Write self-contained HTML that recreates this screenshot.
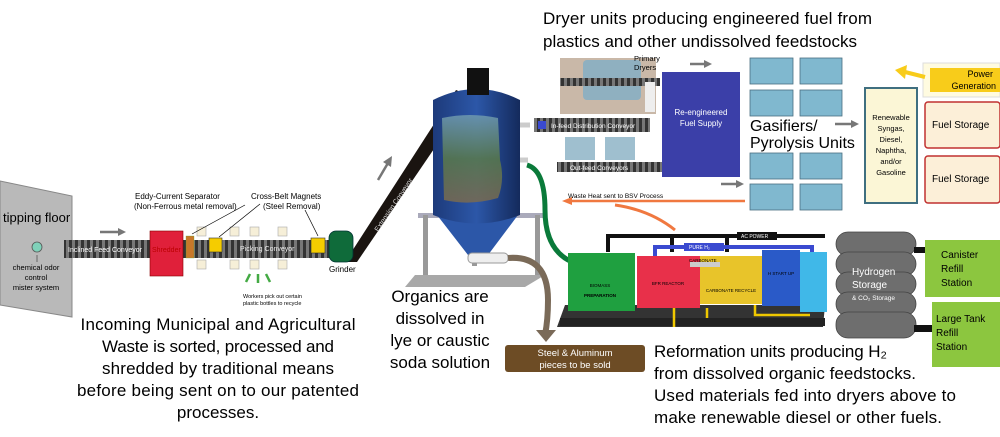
<!DOCTYPE html>
<html><head><meta charset="utf-8"><style>
html,body{margin:0;padding:0;background:#fff;}
svg{display:block;}
text{font-family:"Liberation Sans",sans-serif;}
</style></head><body>
<svg width="1000" height="437" viewBox="0 0 1000 437" xmlns="http://www.w3.org/2000/svg">
<defs>
<pattern id="belt" width="6" height="10" patternUnits="userSpaceOnUse"><rect width="6" height="10" fill="#333"/><rect width="3" height="10" fill="#777"/></pattern>
<linearGradient id="tank" x1="0" x2="1"><stop offset="0" stop-color="#1d3a7a"/><stop offset="0.5" stop-color="#2c57a8"/><stop offset="1" stop-color="#142a5c"/></linearGradient>
<linearGradient id="liq" x1="0" y1="0" x2="0" y2="1"><stop offset="0" stop-color="#6f9ab0"/><stop offset="0.5" stop-color="#5a7a4a"/><stop offset="1" stop-color="#7a6a50"/></linearGradient>
</defs>

<!-- tipping floor -->
<polygon points="0,181 72,196 72,317 0,305" fill="#b9b9b9" stroke="#888"/>
<text x="3" y="222" font-size="13">tipping floor</text>
<circle cx="37" cy="247" r="5" fill="#7fd1b9" stroke="#555" stroke-width="0.8"/>
<line x1="37" y1="262" x2="37" y2="255" stroke="#666"/>
<text x="36" y="270" font-size="7.5" text-anchor="middle">chemical odor</text>
<text x="36" y="280" font-size="7.5" text-anchor="middle">control</text>
<text x="36" y="290" font-size="7.5" text-anchor="middle">mister system</text>

<!-- conveyor -->
<rect x="64" y="240" width="268" height="18" fill="url(#belt)"/>
<text x="68" y="252" font-size="7" fill="#fff">Inclined Feed Conveyor</text>
<path d="M100 232 H120" stroke="#777" stroke-width="2.5"/><polygon points="118,228 126,232 118,236" fill="#777"/>
<rect x="150" y="231" width="33" height="45" fill="#e0203a" stroke="#800" stroke-width="0.6"/>
<text x="152" y="252" font-size="7" fill="#b00">Shredder</text>
<rect x="186" y="236" width="8" height="22" fill="#c8782a" stroke="#5a3" stroke-width="0.3"/>
<rect x="209" y="238" width="13" height="14" fill="#f5cc00" stroke="#333" stroke-width="0.6"/>
<rect x="311" y="238" width="14" height="15" fill="#f5cc00" stroke="#333" stroke-width="0.6"/>
<text x="240" y="251" font-size="7" fill="#eee">Picking Conveyor</text>
<g fill="#f6efd8" stroke="#aaa" stroke-width="0.6">
<rect x="197" y="227" width="9" height="9"/><rect x="230" y="227" width="9" height="9"/><rect x="250" y="227" width="9" height="9"/><rect x="278" y="227" width="9" height="9"/>
<rect x="197" y="260" width="9" height="9"/><rect x="230" y="260" width="9" height="9"/><rect x="250" y="260" width="9" height="9"/><rect x="278" y="260" width="9" height="9"/>
</g>
<text x="135" y="199" font-size="8">Eddy-Current Separator</text>
<text x="134" y="209" font-size="8">(Non-Ferrous metal removal)</text>
<text x="251" y="199" font-size="8">Cross-Belt Magnets</text>
<text x="263" y="209" font-size="8">(Steel Removal)</text>
<line x1="245" y1="205" x2="192" y2="234" stroke="#000" stroke-width="0.7"/>
<line x1="260" y1="204" x2="219" y2="237" stroke="#000" stroke-width="0.7"/>
<line x1="305" y1="210" x2="318" y2="236" stroke="#000" stroke-width="0.7"/>
<path d="M250 274 l-4 8 M258 274 v9 M266 274 l4 8" stroke="#4a4" stroke-width="2.5"/>
<text x="243" y="298" font-size="5.5">Workers pick out certain</text>
<text x="243" y="305" font-size="5.5">plastic bottles to recycle</text>

<!-- grinder + extension conveyor -->
<polygon points="345,262 357,262 470,96 456,90" fill="#1a1410"/>
<rect x="329" y="231" width="24" height="31" rx="7" fill="#0f6b3a" stroke="#033" stroke-width="0.8"/>
<text x="329" y="272" font-size="8">Grinder</text>
<text x="0" y="0" font-size="7" fill="#ddd" transform="translate(378,232) rotate(-56)">Extension Conveyor</text>
<path d="M378 180 L388 163" stroke="#777" stroke-width="2.5"/><polygon points="383,162 392,156 391,167" fill="#777"/>

<!-- tank -->
<rect x="418" y="213" width="125" height="5" fill="#aab"/>
<rect x="423" y="215" width="5" height="60" fill="#999"/><rect x="535" y="215" width="5" height="60" fill="#999"/>
<rect x="472" y="218" width="5" height="48" fill="#999"/>
<polygon points="415,275 545,275 525,287 405,287" fill="#a8a8a8"/>
<polygon points="437,215 518,215 488,255 468,255" fill="#2c57a8"/>
<rect x="468" y="253" width="40" height="10" rx="4" fill="#eee" stroke="#999"/>
<path d="M433 100 Q477 78 520 100 V215 Q477 232 433 215 Z" fill="url(#tank)"/>
<path d="M442 118 Q470 112 498 118 L500 160 Q505 180 498 198 Q470 206 444 200 Z" fill="url(#liq)" opacity="0.85"/>
<rect x="467" y="68" width="22" height="27" fill="#111"/>
<path d="M520 125 h10 M520 160 h8" stroke="#ccc" stroke-width="5"/>
<path d="M527 165 Q545 170 545 210 Q545 250 572 262" stroke="#0a7a3a" stroke-width="5" fill="none"/>
<path d="M508 258 Q548 255 548 300 Q548 320 545 335" stroke="#7a6a58" stroke-width="6" fill="none"/>
<polygon points="536,330 556,330 546,342" fill="#7a6a58"/>
<text x="440" y="302" font-size="17" text-anchor="middle">Organics are</text>
<text x="440" y="324" font-size="17" text-anchor="middle">dissolved in</text>
<text x="440" y="346" font-size="17" text-anchor="middle">lye or caustic</text>
<text x="440" y="368" font-size="17" text-anchor="middle">soda solution</text>
<rect x="505" y="345" width="140" height="27" rx="3" fill="#6d4c25"/>
<text x="575" y="356" font-size="9.5" fill="#fff" text-anchor="middle">Steel &amp; Aluminum</text>
<text x="575" y="368" font-size="9.5" fill="#fff" text-anchor="middle">pieces to be sold</text>

<!-- top text -->
<text x="543" y="24" font-size="17" textLength="329">Dryer units producing engineered fuel from</text>
<text x="543" y="47" font-size="17" textLength="314">plastics and other undissolved feedstocks</text>

<!-- dryers -->
<rect x="560" y="58" width="96" height="56" fill="#c9b8a8"/>
<rect x="583" y="60" width="58" height="40" rx="4" fill="#8fb0c0"/>
<rect x="560" y="78" width="100" height="8" fill="url(#belt)"/>
<rect x="645" y="82" width="10" height="30" fill="#eee"/>
<text x="634" y="61" font-size="7.5">Primary</text><text x="634" y="70" font-size="7.5">Dryers</text>
<rect x="534" y="118" width="116" height="14" fill="url(#belt)"/>
<rect x="538" y="121" width="8" height="8" fill="#3a4ad0"/>
<text x="551" y="128" font-size="6.5" fill="#fff">In-feed Distribution Conveyor</text>
<rect x="565" y="137" width="30" height="23" fill="#9fbfcf"/><rect x="605" y="137" width="30" height="23" fill="#9fbfcf"/>
<rect x="557" y="162" width="108" height="10" fill="url(#belt)"/>
<text x="570" y="170" font-size="6.5" fill="#fff">Out-feed Conveyors</text>
<rect x="662" y="72" width="78" height="105" fill="#3b3fa8"/>
<text x="701" y="115" font-size="8" fill="#fff" text-anchor="middle">Re-engineered</text>
<text x="701" y="126" font-size="8" fill="#fff" text-anchor="middle">Fuel Supply</text>
<path d="M690 64 H705" stroke="#777" stroke-width="2.5"/><polygon points="704,60 712,64 704,68" fill="#777"/>
<path d="M721 184 H737" stroke="#777" stroke-width="2.5"/><polygon points="736,180 744,184 736,188" fill="#777"/>

<!-- gasifiers -->
<g fill="#80b8cf" stroke="#4a6f80" stroke-width="0.8">
<rect x="750" y="58" width="43" height="26"/><rect x="800" y="58" width="42" height="26"/>
<rect x="750" y="90" width="43" height="26"/><rect x="800" y="90" width="42" height="26"/>
<rect x="750" y="153" width="43" height="26"/><rect x="800" y="153" width="42" height="26"/>
<rect x="750" y="184" width="43" height="26"/><rect x="800" y="184" width="42" height="26"/>
</g>
<text x="750" y="131" font-size="16">Gasifiers/</text>
<text x="750" y="148" font-size="16">Pyrolysis Units</text>
<path d="M835 124 H852" stroke="#777" stroke-width="2.5"/><polygon points="851,120 859,124 851,128" fill="#777"/>
<rect x="865" y="88" width="52" height="115" fill="#fbf6d6" stroke="#3f6f80" stroke-width="2"/>
<g font-size="7.5" text-anchor="middle"><text x="891" y="120">Renewable</text><text x="891" y="131">Syngas,</text><text x="891" y="142">Diesel,</text><text x="891" y="153">Naphtha,</text><text x="891" y="164">and/or</text><text x="891" y="175">Gasoline</text></g>
<rect x="923" y="63" width="77" height="34" fill="#fffbe0" stroke="#ddd"/>
<rect x="930" y="68" width="70" height="24" fill="#f8cc1a"/>
<text x="993" y="77" font-size="9" text-anchor="end">Power</text><text x="996" y="89" font-size="9" text-anchor="end">Generation</text>
<path d="M925 77 L905 72" stroke="#f8cc1a" stroke-width="4"/><polygon points="907,65 895,70 905,79" fill="#f8cc1a"/>
<rect x="925" y="102" width="75" height="46" rx="3" fill="#fcefd8" stroke="#c03030" stroke-width="1.5"/>
<rect x="925" y="156" width="75" height="47" rx="3" fill="#fcefd8" stroke="#c03030" stroke-width="1.5"/>
<text x="932" y="128" font-size="10">Fuel Storage</text><text x="932" y="182" font-size="10">Fuel Storage</text>

<!-- waste heat -->
<path d="M745 201 H570" stroke="#f07840" stroke-width="2.5"/><polygon points="572,197 562,201 572,205" fill="#f07840"/>
<text x="568" y="198" font-size="6.5">Waste Heat sent to BSV Process</text>
<path d="M675 230 Q650 210 615 205" stroke="#f07840" stroke-width="3" fill="none"/>

<!-- reformation -->
<polygon points="565,305 825,305 823,327 557,327" fill="#333"/>
<rect x="560" y="318" width="265" height="8" fill="#222"/>
<path d="M608 252 V236 H825" stroke="#111" stroke-width="4" fill="none"/>
<path d="M672 252 V236 M727 252 V236" stroke="#111" stroke-width="4"/>
<rect x="737" y="232" width="40" height="8" fill="#111"/><text x="741" y="238" font-size="5" fill="#fff">AC POWER</text>
<path d="M655 262 V247 H812 V255" stroke="#3a4ad0" stroke-width="4" fill="none"/>
<rect x="684" y="243" width="40" height="8" fill="#3a4ad0"/><text x="689" y="249" font-size="5" fill="#fff">PURE H₂</text>
<rect x="568" y="253" width="67" height="58" fill="#1fa040"/>
<rect x="637" y="256" width="63" height="52" fill="#e8304a"/>
<rect x="700" y="256" width="62" height="48" fill="#e8c42a"/>
<rect x="762" y="250" width="38" height="56" fill="#2a5ac8"/>
<rect x="800" y="252" width="27" height="60" fill="#40b8e8"/>
<rect x="690" y="262" width="30" height="5" fill="#ccc"/>
<text x="689" y="262" font-size="4.5">CARBONATE</text>
<g font-size="4.5" text-anchor="middle"><text x="600" y="287">BIOMASS</text><text x="600" y="297" font-weight="bold">PREPARATION</text><text x="668" y="285">BFR REACTOR</text><text x="731" y="292">CARBONATE RECYCLE</text><text x="781" y="275">H START UP</text></g>
<path d="M674 308 V327 M707 308 V318 M755 305 V315 H810" stroke="#f0c800" stroke-width="2.5" fill="none"/>

<!-- hydrogen storage -->
<g fill="#6e6e6e" stroke="#444" stroke-width="0.8">
<rect x="836" y="232" width="80" height="24" rx="12"/><rect x="836" y="252" width="80" height="24" rx="12"/>
<rect x="836" y="272" width="80" height="24" rx="12"/><rect x="836" y="292" width="80" height="24" rx="12"/>
<rect x="836" y="312" width="80" height="26" rx="12"/>
</g>
<rect x="914" y="247" width="12" height="6" fill="#111"/><rect x="914" y="325" width="20" height="7" fill="#111"/>
<text x="852" y="275" font-size="10" fill="#fff">Hydrogen</text>
<text x="852" y="288" font-size="10" fill="#fff">Storage</text>
<text x="852" y="300" font-size="6.5" fill="#fff">&amp; CO₂ Storage</text>
<rect x="925" y="240" width="75" height="57" fill="#8cc63f"/>
<text x="941" y="258" font-size="10">Canister</text><text x="941" y="272" font-size="10">Refill</text><text x="941" y="286" font-size="10">Station</text>
<rect x="932" y="302" width="68" height="65" fill="#8cc63f"/>
<text x="936" y="322" font-size="10">Large Tank</text><text x="936" y="336" font-size="10">Refill</text><text x="936" y="350" font-size="10">Station</text>

<!-- bottom texts -->
<g font-size="17" text-anchor="middle">
<text x="218" y="330" textLength="275">Incoming Municipal and Agricultural</text>
<text x="218" y="352" textLength="232">Waste is sorted, processed and</text>
<text x="218" y="374" textLength="232">shredded by traditional means</text>
<text x="218" y="396" textLength="282">before being sent on to our patented</text>
<text x="218" y="418">processes.</text>
</g>
<g font-size="17">
<text x="654" y="357" textLength="233">Reformation units producing H₂</text>
<text x="654" y="379" textLength="262">from dissolved organic feedstocks.</text>
<text x="654" y="401" textLength="302">Used materials fed into dryers above to</text>
<text x="654" y="423" textLength="288">make renewable diesel or other fuels.</text>
</g>
</svg>
</body></html>
